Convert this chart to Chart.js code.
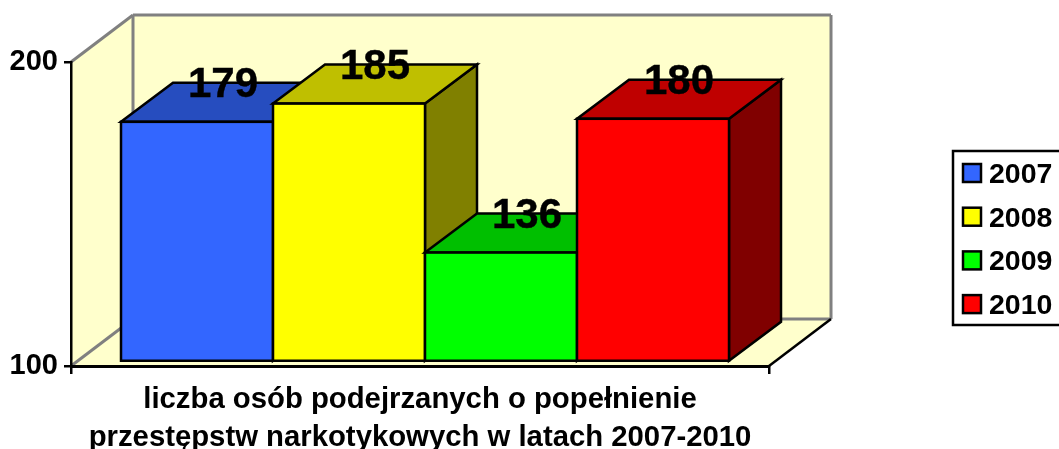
<!DOCTYPE html>
<html>
<head>
<meta charset="utf-8">
<style>
  html, body { margin: 0; padding: 0; background: #fff; overflow: hidden; }
  #box { width: 1059px; height: 449px; }
</style>
<script src="https://cdn.jsdelivr.net/npm/chart.js@4"></script>
</head>
<body>
<div id="box"><canvas id="chart"></canvas></div>
<script>
// data
const categories = [['liczba osób podejrzanych o popełnienie', 'przestępstw narkotykowych w latach 2007-2010']];
const years = ['2007', '2008', '2009', '2010'];
const values = [179, 185, 136, 180];
const frontColors = ['#3366FF', '#FFFF00', '#00FF00', '#FF0000'];
const topColors = ['#264DBF', '#BFBF00', '#00BF00', '#BF0000'];
const sideColors = ['#1A3380', '#808000', '#008000', '#800000'];

const FONT = '"Liberation Sans", Arial, sans-serif';
const WALL = '#FFFFCC';
const GREY = '#808080';
// depth of the back wall and of the bars
const wallDx = 62, wallDy = -47;
const barDx = 52, barDy = -39;
// bars stand a little behind the axis plane
const shiftX = 5, shiftY = -4;

function poly(ctx, pts, fill, stroke, lw) {
    ctx.beginPath();
    pts.forEach((p, i) => i ? ctx.lineTo(p[0], p[1]) : ctx.moveTo(p[0], p[1]));
    ctx.closePath();
    if (fill) { ctx.fillStyle = fill; ctx.fill(); }
    if (stroke) { ctx.strokeStyle = stroke; ctx.lineWidth = lw; ctx.lineJoin = 'miter'; ctx.stroke(); }
}

function segment(ctx, x1, y1, x2, y2, color, lw) {
    ctx.beginPath();
    ctx.moveTo(x1, y1);
    ctx.lineTo(x2, y2);
    ctx.strokeStyle = color;
    ctx.lineWidth = lw;
    ctx.stroke();
}

// walls and floor of the box
const walls = {
    id: 'walls',
    beforeDraw(chart) {
        const ctx = chart.ctx;
        const a = chart.chartArea;
        const l = a.left, r = a.right, t = a.top, b = a.bottom;
        ctx.save();
        poly(ctx, [[l + wallDx, t + wallDy], [r + wallDx, t + wallDy], [r + wallDx, b + wallDy], [l + wallDx, b + wallDy]], WALL);
        poly(ctx, [[l, t], [l + wallDx, t + wallDy], [l + wallDx, b + wallDy], [l, b]], WALL);
        poly(ctx, [[l, b], [l + wallDx, b + wallDy], [r + wallDx, b + wallDy], [r, b]], WALL);
        segment(ctx, l, t, l + wallDx, t + wallDy, GREY, 3);
        segment(ctx, l + wallDx, t + wallDy, r + wallDx, t + wallDy, GREY, 3);
        segment(ctx, l + wallDx, t + wallDy, l + wallDx, b + wallDy, GREY, 3);
        segment(ctx, r + wallDx, t + wallDy, r + wallDx, b + wallDy, GREY, 3);
        segment(ctx, l, b, l + wallDx, b + wallDy, GREY, 3);
        segment(ctx, l + wallDx, b + wallDy, r + wallDx, b + wallDy, GREY, 3);
        segment(ctx, r, b, r + wallDx, b + wallDy, '#000', 2.5);
        ctx.restore();
    }
};

// draw bars left to right with their top and side faces, then the value labels
const bars3d = {
    id: 'bars3d',
    beforeDatasetsDraw(chart) {
        const ctx = chart.ctx;
        ctx.save();
        ctx.translate(shiftX, shiftY);
        chart.data.datasets.forEach((ds, i) => {
            const meta = chart.getDatasetMeta(i);
            const bar = meta.data[0];
            const x1 = bar.x - bar.width / 2, x2 = bar.x + bar.width / 2;
            const y1 = bar.y, y2 = bar.base;
            poly(ctx, [[x2, y1], [x2 + barDx, y1 + barDy], [x2 + barDx, y2 + barDy], [x2, y2]], sideColors[i], '#000', 2.5);
            poly(ctx, [[x1, y1], [x1 + barDx, y1 + barDy], [x2 + barDx, y1 + barDy], [x2, y1]], topColors[i], '#000', 2.5);
            meta.controller.draw();
            // outline centred on the bar edge so neighbours share one line
            ctx.strokeStyle = '#000';
            ctx.lineWidth = 2.5;
            ctx.strokeRect(x1, y1, x2 - x1, y2 - y1);
        });
        ctx.font = 'bold 42px ' + FONT;
        ctx.fillStyle = '#000';
        ctx.strokeStyle = '#000';
        ctx.lineWidth = 0.4;
        ctx.textAlign = 'center';
        ctx.textBaseline = 'middle';
        chart.data.datasets.forEach((ds, i) => {
            const bar = chart.getDatasetMeta(i).data[0];
            ctx.fillText(ds.data[0], bar.x + barDx / 2, bar.y + barDy + 3);
            ctx.strokeText(ds.data[0], bar.x + barDx / 2, bar.y + barDy + 3);
        });
        ctx.restore();
        return false;
    }
};

// legend box runs off the right edge like in the original
const legendBox = {
    id: 'legendBox',
    afterDraw(chart) {
        const ctx = chart.ctx;
        ctx.save();
        ctx.strokeStyle = '#000';
        ctx.lineWidth = 2.5;
        ctx.strokeRect(953, 151, 120, 174);
        ctx.font = 'bold 28.5px ' + FONT;
        ctx.textAlign = 'left';
        ctx.textBaseline = 'middle';
        chart.data.datasets.forEach((ds, i) => {
            const y = 173 + i * 43.7;
            ctx.fillStyle = ds.backgroundColor;
            ctx.fillRect(963, y - 9, 18, 18);
            ctx.strokeRect(963, y - 9, 18, 18);
            ctx.fillStyle = '#000';
            ctx.fillText(ds.label, 989, y + 2);
        });
        ctx.restore();
    }
};

new Chart(document.getElementById('chart'), {
    type: 'bar',
    data: {
        labels: categories,
        datasets: years.map((year, i) => ({
            label: year,
            data: [values[i]],
            base: 100,
            backgroundColor: frontColors[i],
            borderWidth: 0,
            clip: false
        }))
    },
    options: {
        responsive: true,
        maintainAspectRatio: false,
        animation: false,
        layout: { padding: { top: 62, left: 0, right: 290, bottom: 0 } },
        datasets: { bar: { barPercentage: 1, categoryPercentage: 608 / 698 } },
        plugins: { legend: { display: false }, tooltip: { enabled: false } },
        scales: {
            x: {
                afterFit(scale) { scale.height = 83; },
                border: { color: '#000', width: 3 },
                grid: { drawOnChartArea: false, color: '#000', lineWidth: 2.5, tickLength: 8 },
                ticks: { color: '#000', font: { family: FONT, size: 29.3, weight: 'bold', lineHeight: 1.3 }, maxRotation: 0, padding: 7 }
            },
            y: {
                min: 100,
                max: 200,
                afterFit(scale) { scale.width = 71; },
                border: { color: '#000', width: 2.5 },
                grid: { drawOnChartArea: false, color: '#000', lineWidth: 2.5, tickLength: 7 },
                ticks: { stepSize: 100, color: '#000', font: { family: FONT, size: 29, weight: 'bold' }, padding: 6 }
            }
        }
    },
    plugins: [walls, bars3d, legendBox]
});
</script>
</body>
</html>
